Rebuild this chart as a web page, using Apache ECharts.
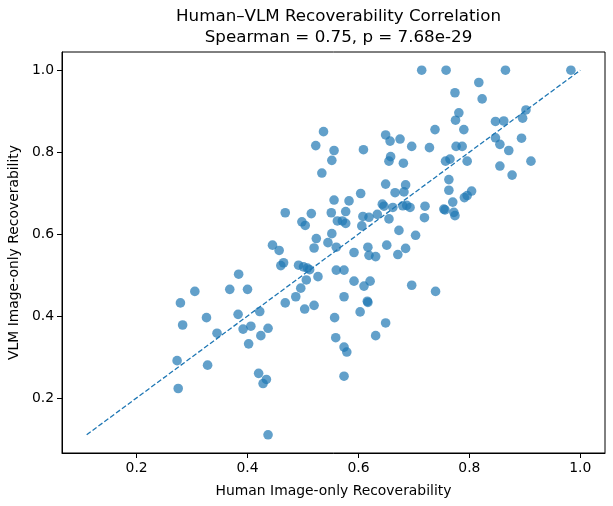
<!DOCTYPE html>
<html>
<head>
<meta charset="utf-8">
<script src="https://cdn.jsdelivr.net/npm/echarts@6/dist/echarts.min.js"></script>
<style>
  html, body { margin: 0; padding: 0; background: #fff; }
  #chart { width: 613px; height: 506px; }
</style>
</head>
<body>
<div id="chart"></div>
<script>
// human image-only recoverability (x) per item
const humanScores = [
  0.537, 0.523, 0.556, 0.552, 0.534, 0.556, 0.468, 0.515, 0.551, 0.498,
  0.504, 0.562, 0.552, 0.524, 0.545, 0.560, 0.520, 0.445, 0.457,
  0.714, 0.758, 0.865, 0.983, 0.817, 0.774, 0.823, 0.781, 0.775, 0.902,
  0.896, 0.847, 0.862, 0.790, 0.738, 0.649, 0.657, 0.675, 0.696, 0.728,
  0.776, 0.787, 0.847, 0.855, 0.894, 0.871, 0.609, 0.658, 0.655, 0.681,
  0.757, 0.765, 0.796, 0.855, 0.911, 0.877, 0.763, 0.763, 0.649, 0.685,
  0.666, 0.682, 0.604, 0.583, 0.804, 0.796, 0.791, 0.770, 0.643, 0.646,
  0.662, 0.680, 0.687, 0.693, 0.720, 0.754, 0.756, 0.772, 0.774, 0.719,
  0.655, 0.634, 0.619, 0.608, 0.577, 0.571, 0.577, 0.606, 0.673, 0.703,
  0.651, 0.617, 0.685, 0.592, 0.619, 0.631, 0.671,
  0.465, 0.460, 0.492, 0.501, 0.508, 0.512, 0.506, 0.527, 0.560, 0.574,
  0.384, 0.368, 0.400, 0.305, 0.279, 0.468, 0.487, 0.496, 0.503, 0.520,
  0.383, 0.422, 0.326, 0.283, 0.345, 0.392, 0.406, 0.437, 0.424, 0.402,
  0.273, 0.328, 0.420, 0.434, 0.428, 0.275, 0.437, 0.557, 0.559,
  0.592, 0.610, 0.621, 0.696, 0.739, 0.574, 0.616, 0.617, 0.603, 0.649,
  0.631, 0.574, 0.579, 0.574
];

// VLM image-only recoverability (y), same order
const vlmScores = [
  0.850, 0.816, 0.804, 0.780, 0.749, 0.683, 0.652, 0.650, 0.652, 0.630,
  0.621, 0.632, 0.601, 0.589, 0.579, 0.568, 0.566, 0.573, 0.560,
  1.000, 1.000, 1.000, 1.000, 0.970, 0.945, 0.930, 0.896, 0.878, 0.903,
  0.883, 0.875, 0.876, 0.855, 0.855, 0.842, 0.827, 0.832, 0.814, 0.811,
  0.814, 0.814, 0.835, 0.819, 0.834, 0.804, 0.806, 0.789, 0.778, 0.773,
  0.778, 0.783, 0.778, 0.766, 0.778, 0.744, 0.733, 0.707, 0.722, 0.720,
  0.701, 0.703, 0.699, 0.681, 0.705, 0.694, 0.689, 0.678, 0.673, 0.668,
  0.665, 0.669, 0.670, 0.665, 0.668, 0.661, 0.659, 0.653, 0.645, 0.640,
  0.637, 0.648, 0.641, 0.643, 0.655, 0.632, 0.626, 0.620, 0.609, 0.597,
  0.573, 0.568, 0.565, 0.555, 0.548, 0.545, 0.550,
  0.530, 0.523, 0.524, 0.520, 0.517, 0.513, 0.488, 0.496, 0.512, 0.512,
  0.502, 0.465, 0.465, 0.460, 0.432, 0.432, 0.447, 0.468, 0.417, 0.426,
  0.404, 0.411, 0.396, 0.378, 0.358, 0.368, 0.375, 0.370, 0.352, 0.332,
  0.291, 0.280, 0.260, 0.245, 0.235, 0.223, 0.110, 0.396, 0.347,
  0.485, 0.473, 0.485, 0.475, 0.460, 0.447, 0.436, 0.433, 0.410, 0.383,
  0.352, 0.324, 0.312, 0.253
];

const tickValues = [0.2, 0.4, 0.6, 0.8, 1.0];

const titleText = 'Human\u2013VLM Recoverability Correlation\nSpearman = 0.75, p = 7.68e-29';

// y = x reference line spans the full data range
const allVals = humanScores.concat(vlmScores);
const lo = Math.min(...allVals);
const hi = Math.max(...allVals);
const diagLine = [[lo, lo], [hi, hi]];

// matplotlib-ish 5% margins
const pad = (hi - lo) * 0.05;
const axMin = lo - pad;
const axMax = hi + pad;

const points = humanScores.map((x, i) => [x, vlmScores[i]]);

const font = 'DejaVu Sans';

function axisBase(name, gap) {
    return {
        type: 'value',
        min: axMin,
        max: axMax,
        name: name,
        nameLocation: 'middle',
        nameGap: gap,
        nameTextStyle: { fontFamily: font, fontSize: 13.9, color: '#000' },
        axisLine: { show: true, lineStyle: { color: '#000', width: 1 } },
        axisTick: {
            show: true,
            inside: false,
            length: 5,
            customValues: tickValues,
            lineStyle: { color: '#000', width: 1 }
        },
        axisLabel: {
            customValues: tickValues,
            fontFamily: font,
            fontSize: 13.9,
            color: '#000',
            margin: 8,
            formatter: v => v.toFixed(1)
        },
        splitLine: { show: false }
    };
}

const chart = echarts.init(document.getElementById('chart'), null, { renderer: 'canvas' });

const option = {
    animation: false,
    backgroundColor: '#fff',
    title: {
        text: titleText,
        left: 333.5,
        top: 1,
        textAlign: 'center',
        textStyle: {
            fontFamily: font,
            fontSize: 16.7,
            fontWeight: 'normal',
            color: '#000',
            lineHeight: 21
        }
    },
    grid: {
        left: 62,
        right: 8,
        top: 52,
        bottom: 53,
        show: true,
        borderColor: '#000',
        borderWidth: 1,
        outerBoundsMode: 'none'
    },
    xAxis: axisBase('Human Image-only Recoverability', 31),
    yAxis: axisBase('VLM Image-only Recoverability', 37),
    series: [
        {
            type: 'scatter',
            data: points,
            symbolSize: 9.6,
            itemStyle: { color: '#1f77b4', opacity: 0.7 },
            z: 2
        },
        {
            type: 'line',
            data: diagLine,
            symbol: 'none',
            lineStyle: { color: '#1f77b4', width: 1.3, type: [5, 2.3] },
            z: 3
        }
    ]
};

chart.setOption(option);
</script>
</body>
</html>
